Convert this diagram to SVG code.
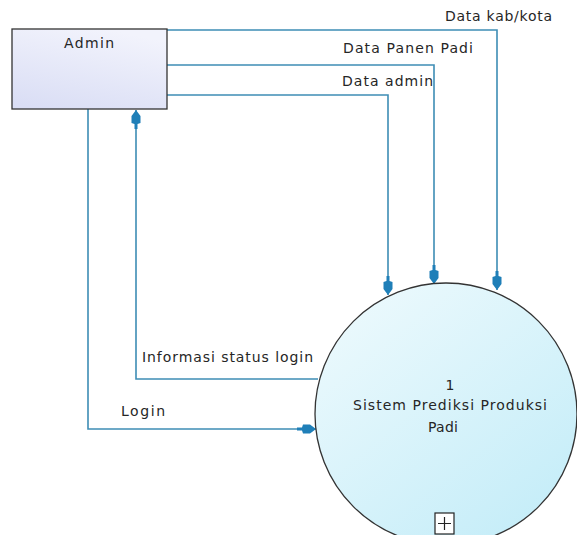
<svg xmlns="http://www.w3.org/2000/svg" width="577" height="535" viewBox="0 0 577 535">
<style>
.flow{fill:none;stroke:#3e8db5;stroke-width:1.6}
.lbl{font-family:"DejaVu Sans",Verdana,sans-serif;font-size:14px;fill:#262626}
.node{stroke:#333;stroke-width:1.3}
</style>
<defs>
<linearGradient id="gBox" x1="0.6" y1="0" x2="0.2" y2="1">
<stop offset="0" stop-color="#f2f3fc"/>
<stop offset="1" stop-color="#dadef5"/>
</linearGradient>
<linearGradient id="gCirc" x1="0.1" y1="0" x2="0.9" y2="1">
<stop offset="0" stop-color="#eefafd"/>
<stop offset="1" stop-color="#c2ecf8"/>
</linearGradient>
<marker id="arr" markerUnits="userSpaceOnUse" markerWidth="20" markerHeight="11" refX="19" refY="5.5" orient="auto" viewBox="0 0 20 11">
<path d="M0,4 L5,4 L6,1 L13,1 L19,5.5 L13,10 L6,10 L5,7 L0,7 Z" fill="#1f7fb8"/>
</marker>
</defs>
<rect width="577" height="535" fill="#ffffff"/>
<g id="connectors">
<path class="flow" d="M167,30 H497 V290" marker-end="url(#arr)"/>
<path class="flow" d="M167,65 H434 V284" marker-end="url(#arr)"/>
<path class="flow" d="M167,95 H388 V295" marker-end="url(#arr)"/>
<path class="flow" d="M318,379 H136 V110" marker-end="url(#arr)"/>
<path class="flow" d="M88,109 V429 H316" marker-end="url(#arr)"/>
<text class="lbl" x="445" y="21" textLength="107" lengthAdjust="spacing">Data kab/kota</text>
<text class="lbl" x="343" y="53" textLength="130" lengthAdjust="spacing">Data Panen Padi</text>
<text class="lbl" x="342" y="86" textLength="91" lengthAdjust="spacing">Data admin</text>
<text class="lbl" x="142" y="362" textLength="171" lengthAdjust="spacing">Informasi status login</text>
<text class="lbl" x="121" y="416" textLength="44" lengthAdjust="spacing">Login</text>
</g>
<g id="admin">
<rect class="node" x="12" y="29" width="155" height="80" fill="url(#gBox)"/>
<text class="lbl" x="89" y="48" text-anchor="middle" textLength="50" lengthAdjust="spacing">Admin</text>
</g>
<g id="process1">
<circle class="node" cx="446" cy="414" r="131" fill="url(#gCirc)"/>
<text class="lbl" x="450" y="390" text-anchor="middle">1</text>
<text class="lbl" x="450" y="410" text-anchor="middle" textLength="194" lengthAdjust="spacing">Sistem Prediksi Produksi</text>
<text class="lbl" x="443" y="432" text-anchor="middle" textLength="30" lengthAdjust="spacing">Padi</text>
<rect x="435" y="513" width="19" height="21" fill="#ffffff" stroke="#222" stroke-width="1.2"/>
<path d="M438,523.5 H451 M444.5,517 V530" stroke="#222" stroke-width="1.2"/>
</g>
</svg>
